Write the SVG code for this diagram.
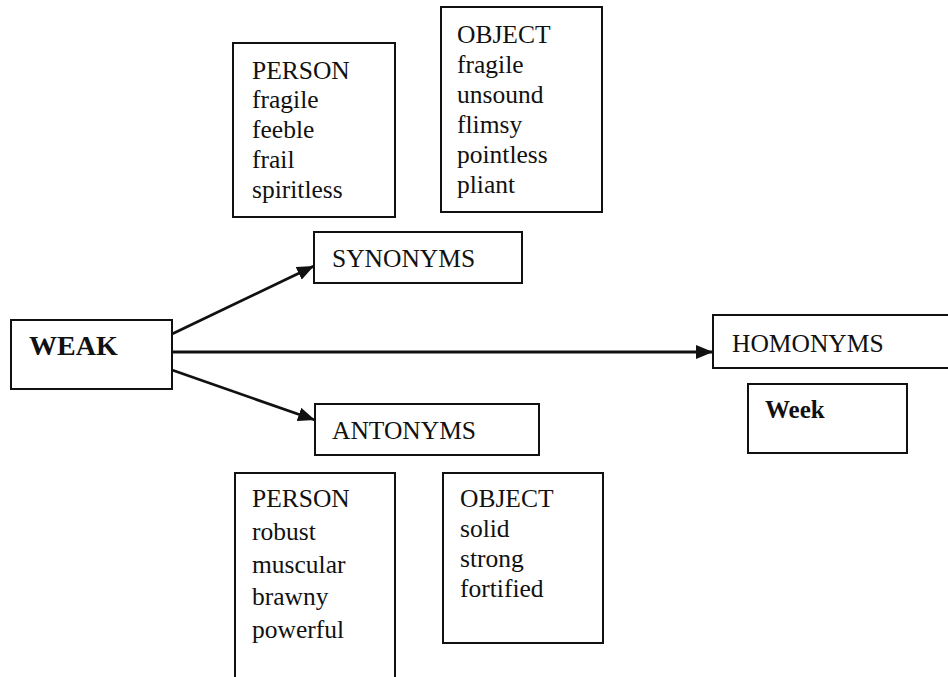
<svg xmlns="http://www.w3.org/2000/svg" width="948" height="677" viewBox="0 0 948 677">
<style>
.box{fill:#fff;stroke:#111;stroke-width:2}
.t{font-family:"Liberation Serif","Times New Roman",serif;font-size:25.5px;fill:#111}
.b{font-weight:bold}
.conn{stroke:#111;stroke-width:2.8;fill:none}
</style>
<defs>
<marker id="ah" viewBox="0 0 17 14" refX="17" refY="7" markerWidth="17" markerHeight="14" markerUnits="userSpaceOnUse" orient="auto">
<path d="M0,0 L17,7 L0,14 Z" fill="#111"/>
</marker>
</defs>
<rect width="948" height="677" fill="#fff"/>
<g id="connectors">
<line class="conn" x1="172" y1="334" x2="314" y2="266" marker-end="url(#ah)"/>
<line class="conn" x1="172" y1="352" x2="713" y2="352" marker-end="url(#ah)"/>
<line class="conn" x1="172" y1="370" x2="315" y2="420" marker-end="url(#ah)"/>
</g>
<g id="weak">
<rect class="box" x="11" y="320" width="161" height="69"/>
<text class="t b" x="29" y="355" style="font-size:28px">WEAK</text>
</g>
<g id="synonyms">
<rect class="box" x="314" y="232" width="208" height="51"/>
<text class="t" x="332" y="267">SYNONYMS</text>
</g>
<g id="antonyms">
<rect class="box" x="315" y="404" width="224" height="51"/>
<text class="t" x="332" y="439">ANTONYMS</text>
</g>
<g id="homonyms">
<rect class="box" x="713" y="315" width="260" height="53"/>
<text class="t" x="732" y="352">HOMONYMS</text>
</g>
<g id="week">
<rect class="box" x="748" y="384" width="159" height="69"/>
<text class="t b" x="765" y="418" style="font-size:25px">Week</text>
</g>
<g id="syn-person">
<rect class="box" x="233" y="43" width="162" height="174"/>
<text class="t" x="252" y="79">PERSON</text>
<text class="t" x="252" y="108">fragile</text>
<text class="t" x="252" y="138">feeble</text>
<text class="t" x="252" y="168">frail</text>
<text class="t" x="252" y="198">spiritless</text>
</g>
<g id="syn-object">
<rect class="box" x="441" y="7" width="161" height="205"/>
<text class="t" x="457" y="43">OBJECT</text>
<text class="t" x="457" y="73">fragile</text>
<text class="t" x="457" y="103">unsound</text>
<text class="t" x="457" y="133">flimsy</text>
<text class="t" x="457" y="163">pointless</text>
<text class="t" x="457" y="193">pliant</text>
</g>
<g id="ant-person">
<rect class="box" x="235" y="473" width="160" height="230"/>
<text class="t" x="252" y="507">PERSON</text>
<text class="t" x="252" y="540">robust</text>
<text class="t" x="252" y="573">muscular</text>
<text class="t" x="252" y="605">brawny</text>
<text class="t" x="252" y="638">powerful</text>
</g>
<g id="ant-object">
<rect class="box" x="443" y="473" width="160" height="170"/>
<text class="t" x="460" y="507">OBJECT</text>
<text class="t" x="460" y="537">solid</text>
<text class="t" x="460" y="567">strong</text>
<text class="t" x="460" y="597">fortified</text>
</g>
</svg>
